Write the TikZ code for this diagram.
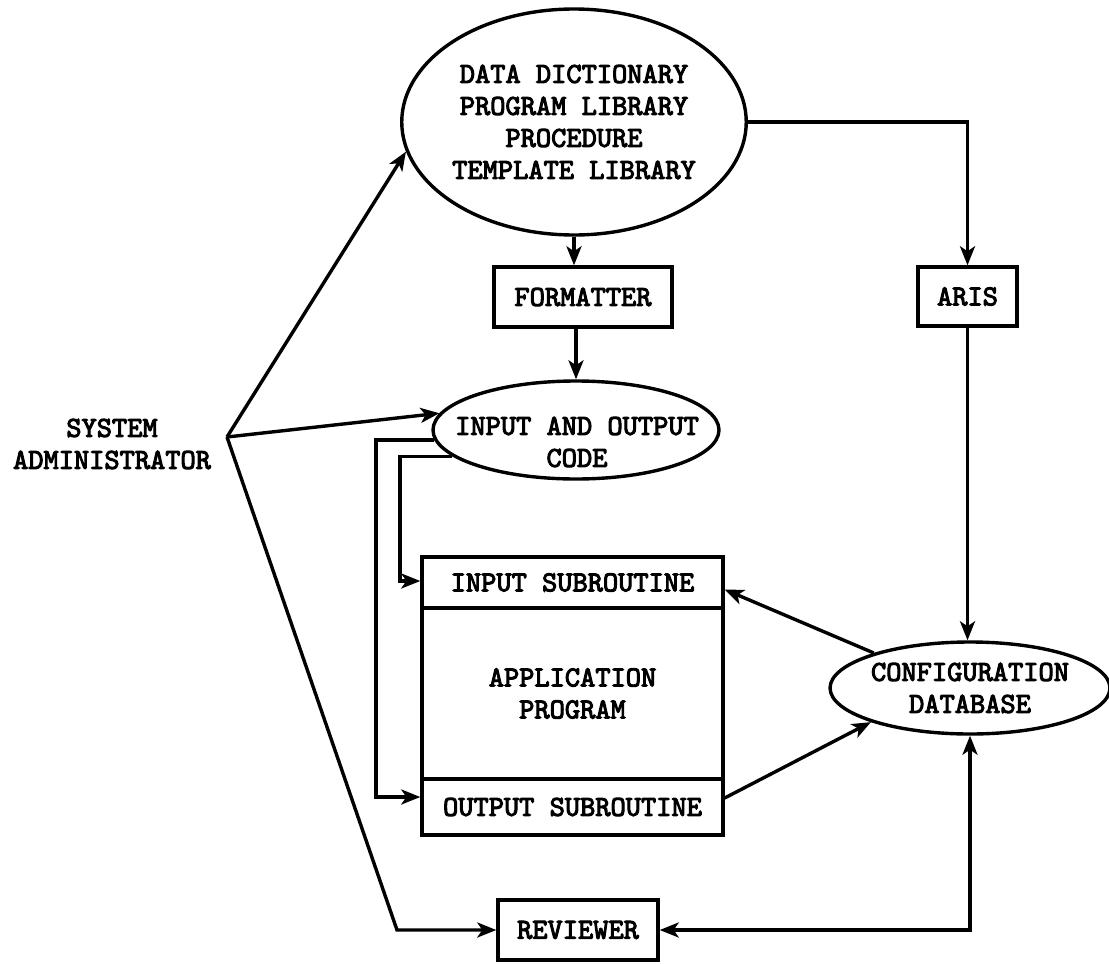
\documentclass[tikz,border=0pt]{standalone}
\usepackage{fontspec}
\setmonofont{lmmono10-regular.otf}[FakeBold=3.5]
\usetikzlibrary{shapes.geometric,arrows.meta,calc}
\begin{document}
\begin{tikzpicture}[x=1pt,y=-1pt, line width=3.4pt,
  txt/.style={font=\ttfamily\bfseries\fontsize{29}{32}\selectfont, align=center, inner sep=0pt},
  oval/.style={draw, ellipse, inner sep=0pt, txt},
  box/.style={draw, rectangle, inner sep=0pt, txt},
  tip/.tip={Stealth[length=19pt,width=15pt,inset=5pt]},
  arr/.style={-tip},
  ]
\useasboundingbox (0,0) rectangle (1109,964);

\node[oval, minimum width=308pt, minimum height=226pt] (dd) at (574,122) {DATA DICTIONARY\\PROGRAM LIBRARY\\PROCEDURE\\TEMPLATE LIBRARY};
\node[box, minimum width=178pt, minimum height=60pt] (fmt) at (583,297) {FORMATTER};
\node[box, minimum width=99pt, minimum height=59pt] (aris) at (967.5,296.5) {ARIS};
\node[oval, minimum width=286pt, minimum height=98pt] (io) at (576,430) {};
\node[txt] (iot) at (577,442) {INPUT AND OUTPUT\\CODE};
\node[box, minimum width=301pt, minimum height=51pt] (insub) at (572.5,582.5) {INPUT SUBROUTINE};
\node[box, minimum width=301pt, minimum height=171pt] (app) at (572.5,693.5) {APPLICATION\\PROGRAM};
\node[box, minimum width=301pt, minimum height=56pt] (outsub) at (572.5,807) {OUTPUT SUBROUTINE};
\node[oval, minimum width=260pt, minimum height=92pt] (cdb) at (970,688) {CONFIGURATION\\DATABASE};
\node[box, minimum width=160pt, minimum height=60pt] (rev) at (578,930) {REVIEWER};
\node[txt] (sa) at (112,444) {SYSTEM\\ADMINISTRATOR};

\coordinate (sav) at (227,437);
\coordinate (sbot) at (397,930);
\coordinate (ol) at (376,797);
\coordinate (il) at (400,581);

\draw[arr] (sav) -- (dd.190);
\draw[arr] (sav) -- (io.173);
\draw[arr] (sav) -- (sbot) -- (rev.west);
\draw[arr] (dd.south) -- (dd.south |- fmt.north);
\draw[arr] (io.north |- fmt.south) -- (io.north);
\draw[arr] (dd.east) -| (aris.north);
\draw[arr] (aris.south) -- (aris.south |- cdb.north);
\draw[arr] (io.184) -| (ol) -- (ol -| outsub.west);
\draw[arr] (io.192) -| (il) -- (il -| insub.west);
\draw[arr] (cdb.160) -- ([yshift=-7pt]insub.east);
\draw[arr] ([yshift=9pt]outsub.east) -- (cdb.199);
\draw[tip-tip] (rev.east) -| (cdb.south);
\end{tikzpicture}
\end{document}
